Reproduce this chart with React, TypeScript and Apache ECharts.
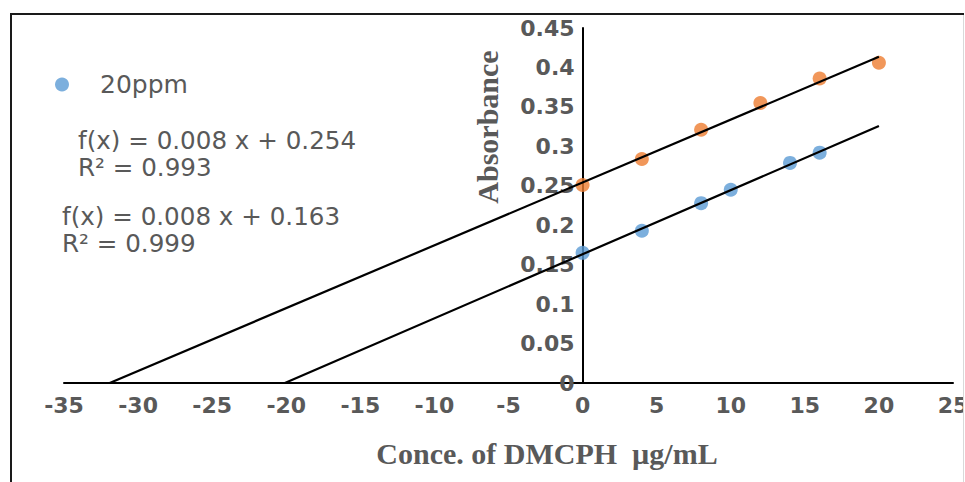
import React, { useEffect, useRef } from "react";
import * as echarts from "echarts";

const blueX = [0, 4, 8, 10, 14, 16];
const blueY = [0.165, 0.193, 0.228, 0.245, 0.279, 0.292];
const orangeX = [0, 4, 8, 12, 16, 20];
const orangeY = [0.251, 0.284, 0.321, 0.355, 0.386, 0.406];
const trendEndX = 20;
const legendNames = ["20ppm"];
const eqOrange = ["f(x) = 0.008 x + 0.254", "R² = 0.993"];
const eqBlue = ["f(x) = 0.008 x + 0.163", "R² = 0.999"];

function fit(xs: number[], ys: number[]) {
  const n = xs.length;
  const mx = xs.reduce((a, b) => a + b, 0) / n;
  const my = ys.reduce((a, b) => a + b, 0) / n;
  let sxy = 0, sxx = 0;
  for (let i = 0; i < n; i++) {
    sxy += (xs[i] - mx) * (ys[i] - my);
    sxx += (xs[i] - mx) * (xs[i] - mx);
  }
  const m = sxy / sxx;
  return { m, b: my - m * mx };
}

function trend(xs: number[], ys: number[]) {
  const { m, b } = fit(xs, ys);
  const x0 = -b / m;
  return [[x0, 0], [trendEndX, m * trendEndX + b]];
}

const GRAY = "#595959";
const SANS = "DejaVu Sans";
const SERIF = "Liberation Serif";
const W = 965;
const GRID_L = 64;
const GRID_R = 12;
const X_MIN = -35;
const X_MAX = 25;

export default function App() {
  const ref = useRef<HTMLDivElement>(null);
  useEffect(() => {
    const chart = echarts.init(ref.current!, null, { renderer: "svg" });
    const gridW = W - GRID_L - GRID_R;
    const yAxisOffset = -((0 - X_MIN) / (X_MAX - X_MIN)) * gridW;
    const eqText = (x: number, y: number, t: string) => ({
      type: "text",
      x,
      y,
      z: 50,
      style: { text: t, fill: GRAY, font: `24.6px "${SANS}"`, verticalAlign: "middle" },
    });
    chart.setOption({
      animation: false,
      backgroundColor: "#ffffff",
      grid: {
        left: GRID_L,
        right: GRID_R,
        top: 28,
        bottom: 99,
        containLabel: false,
        outerBoundsMode: "none",
      },
      legend: {
        data: legendNames,
        left: 55,
        top: 72,
        padding: 0,
        icon: "circle",
        itemWidth: 14,
        itemHeight: 14,
        textStyle: { color: GRAY, fontSize: 25, fontFamily: SANS, padding: [0, 0, 0, 26] },
      },
      xAxis: {
        type: "value",
        min: X_MIN,
        max: X_MAX,
        interval: 5,
        splitLine: { show: false },
        axisTick: { show: false },
        axisLine: { onZero: true, lineStyle: { color: "#000", width: 2 } },
        axisLabel: { color: GRAY, fontSize: 22, fontWeight: "bold", fontFamily: SANS, margin: 11 },
      },
      yAxis: {
        type: "value",
        min: 0,
        max: 0.45,
        interval: 0.05,
        position: "left",
        offset: yAxisOffset,
        splitLine: { show: false },
        axisTick: { show: false },
        axisLine: { show: true, onZero: false, lineStyle: { color: "#000", width: 2 } },
        axisLabel: {
          color: GRAY,
          fontSize: 22,
          fontWeight: "bold",
          fontFamily: SANS,
          margin: 8,
          formatter: (v: number) => String(parseFloat(v.toFixed(2))),
        },
      },
      series: [
        {
          name: "20ppm",
          type: "scatter",
          symbol: "circle",
          symbolSize: 14,
          itemStyle: { color: "#5B9BD5" },
          data: blueX.map((x, i) => [x, blueY[i]]),
        },
        {
          name: "40ppm",
          type: "scatter",
          symbol: "circle",
          symbolSize: 14,
          itemStyle: { color: "#ED7D31" },
          data: orangeX.map((x, i) => [x, orangeY[i]]),
        },
        {
          name: "trend20",
          type: "line",
          symbol: "none",
          lineStyle: { color: "#000", width: 2.2 },
          data: trend(blueX, blueY),
          z: 3,
        },
        {
          name: "trend40",
          type: "line",
          symbol: "none",
          lineStyle: { color: "#000", width: 2.2 },
          data: trend(orangeX, orangeY),
          z: 3,
        },
      ],
      graphic: [
        eqText(78, 140, eqOrange[0]),
        eqText(78, 167, eqOrange[1]),
        eqText(62, 216, eqBlue[0]),
        eqText(62, 243, eqBlue[1]),
        {
          type: "text",
          x: 487,
          y: 127,
          rotation: Math.PI / 2,
          z: 50,
          style: {
            text: "Absorbance",
            fill: GRAY,
            font: `bold 30px "${SERIF}"`,
            align: "center",
            verticalAlign: "middle",
          },
        },
        {
          type: "text",
          x: 547,
          y: 453,
          z: 50,
          style: {
            text: "Conce. of DMCPH  µg/mL",
            fill: GRAY,
            font: `bold 30px "${SERIF}"`,
            align: "center",
            verticalAlign: "middle",
          },
        },
        { type: "rect", z: 100, shape: { x: 964, y: 0, width: 10, height: 482 }, style: { fill: "#fff" } },
        { type: "line", z: 101, shape: { x1: 963.5, y1: 13, x2: 963.5, y2: 482 }, style: { stroke: "#d9d9d9", lineWidth: 1 } },
        { type: "line", z: 101, shape: { x1: 10, y1: 14, x2: 964, y2: 14 }, style: { stroke: "#1a1a1a", lineWidth: 2 } },
        { type: "line", z: 101, shape: { x1: 11, y1: 13, x2: 11, y2: 482 }, style: { stroke: "#1a1a1a", lineWidth: 2 } },
      ],
    });
    return () => chart.dispose();
  }, []);
  return (
    <div
      ref={ref}
      style={{ position: "fixed", left: 0, top: 0, width: W, height: 482, background: "#fff" }}
    />
  );
}
